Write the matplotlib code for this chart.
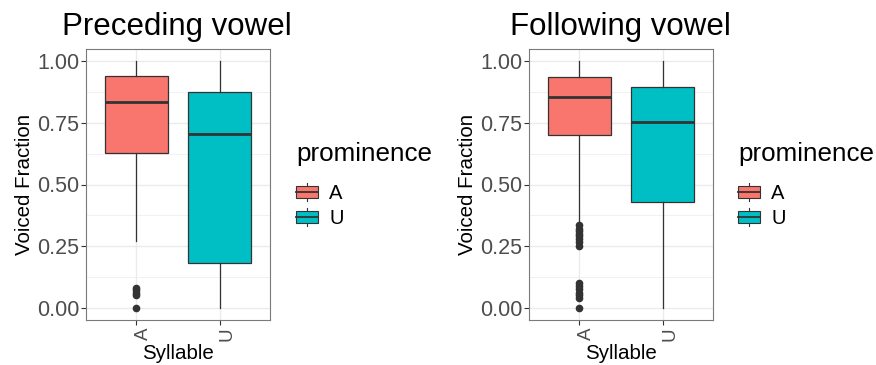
import matplotlib
matplotlib.use("Agg")
import matplotlib.pyplot as plt
from matplotlib.legend_handler import HandlerBase
from matplotlib.patches import Rectangle, Patch
from matplotlib.lines import Line2D
from matplotlib.transforms import blended_transform_factory, ScaledTranslation

plt.rcParams['font.family'] = ['Liberation Sans', 'DejaVu Sans']

W, H = 876, 365

syllables = ['A', 'U']
fill_colors = ['#F8766D', '#00BFC4']

# Preceding vowel: box summaries per syllable
pre_whislo = [0.27, 0.0]
pre_q1 = [0.626, 0.183]
pre_med = [0.833, 0.706]
pre_q3 = [0.941, 0.877]
pre_whishi = [1.0, 1.0]
pre_fliers = [[0.0, 0.05, 0.06, 0.07, 0.08], []]

# Following vowel: box summaries per syllable
fol_whislo = [0.35, 0.0]
fol_q1 = [0.700, 0.429]
fol_med = [0.854, 0.752]
fol_q3 = [0.937, 0.897]
fol_whishi = [1.0, 1.0]
fol_fliers = [[0.0, 0.04, 0.05, 0.06, 0.075, 0.09, 0.10,
               0.25, 0.265, 0.28, 0.29, 0.30, 0.31, 0.32, 0.335], []]

y_ticks = [0.0, 0.25, 0.5, 0.75, 1.0]
y_tick_labels = ['0.00', '0.25', '0.50', '0.75', '1.00']
y_minor = [0.125, 0.375, 0.625, 0.875]

DARK = '#333333'
GRID = '#EBEBEB'


def fx(px):
    return px / W


def fy(py):
    return 1 - py / H


class BoxKey(HandlerBase):
    """Legend key that looks like a small boxplot."""

    def create_artists(self, legend, orig_handle, xdescent, ydescent,
                       width, height, fontsize, trans):
        x0, y0 = -xdescent, -ydescent
        cx = x0 + width / 2
        whisk = Line2D([cx, cx], [y0, y0 + height], color=DARK, lw=0.8,
                       transform=trans)
        box = Rectangle((x0, y0 + 0.17 * height), width, 0.66 * height,
                        facecolor=orig_handle.get_facecolor(),
                        edgecolor=DARK, lw=0.8, transform=trans)
        med = Line2D([x0, x0 + width], [y0 + height / 2] * 2, color=DARK,
                     lw=1.3, transform=trans)
        return [whisk, box, med]


fig = plt.figure(figsize=(W / 100, H / 100), dpi=100)


def draw_panel(left, right, title, title_x, whislo, q1, med, q3, whishi,
               fliers, legend_x):
    ax = fig.add_axes([fx(left), fy(320), fx(right - left), fy(49) - fy(320)])
    stats = []
    for i in range(len(syllables)):
        stats.append({'whislo': whislo[i], 'q1': q1[i], 'med': med[i],
                      'q3': q3[i], 'whishi': whishi[i], 'fliers': fliers[i]})
    positions = list(range(1, len(syllables) + 1))
    bp = ax.bxp(stats, positions=positions, widths=0.75, patch_artist=True,
                showcaps=False,
                boxprops=dict(edgecolor=DARK, linewidth=0.9),
                medianprops=dict(color=DARK, linewidth=2.0),
                whiskerprops=dict(color=DARK, linewidth=0.9),
                flierprops=dict(marker='o', markerfacecolor=DARK,
                                markeredgecolor=DARK, markersize=4.5))
    for patch, c in zip(bp['boxes'], fill_colors):
        patch.set_facecolor(c)

    ax.set_xlim(0.4, 2.6)
    ax.set_ylim(-0.05, 1.05)
    ax.set_axisbelow(True)

    # grid
    for y in y_ticks:
        ax.axhline(y, color=GRID, lw=1.0, zorder=0)
    for y in y_minor:
        ax.axhline(y, color=GRID, lw=0.5, zorder=0)
    for x in positions:
        ax.axvline(x, color=GRID, lw=1.0, zorder=0)

    for s in ax.spines.values():
        s.set_color('#7a7a7a')
        s.set_linewidth(0.8)

    ax.set_yticks(y_ticks)
    ax.set_yticklabels(y_tick_labels)
    ax.set_xticks(positions)
    ax.set_xticklabels([])
    ax.tick_params(axis='both', length=3.6, width=0.8, color=DARK,
                   labelcolor='#4D4D4D', labelsize=15.5, pad=1.2)

    # rotated category labels
    tr = blended_transform_factory(ax.transData, fig.transFigure) + \
        ScaledTranslation(7.0 / 100, 0, fig.dpi_scale_trans)
    for x, lab in zip(positions, syllables):
        ax.text(x, fy(327), lab, rotation=90, ha='center', va='top',
                fontsize=13.5, color='#4D4D4D', transform=tr)

    ax.set_ylabel('Voiced Fraction', fontsize=14.8)
    ax.yaxis.set_label_coords(fx(left - 52), fy(184.5),
                              transform=fig.transFigure)
    ax.set_xlabel('Syllable', fontsize=14.8)
    ax.xaxis.set_label_coords(fx((left + right) / 2), fy(344),
                              transform=fig.transFigure)

    fig.text(fx(title_x), fy(35), title, fontsize=22.5, ha='left',
             va='baseline')

    handles = [Patch(facecolor=c) for c in fill_colors]
    leg = fig.legend(handles, syllables, title='prominence', loc='upper left',
                     bbox_to_anchor=(fx(legend_x), fy(142)), frameon=False,
                     fontsize=14.5, title_fontsize=18.7, alignment='left',
                     handler_map={Patch: BoxKey()}, handlelength=1.08,
                     handleheight=1.0, handletextpad=0.58, labelspacing=0.25,
                     borderpad=0, borderaxespad=0)
    leg._legend_box.sep = 12
    return ax


draw_panel(86, 270, 'Preceding vowel', 62, pre_whislo, pre_q1, pre_med,
           pre_q3, pre_whishi, pre_fliers, 296)
draw_panel(529, 713, 'Following vowel', 510, fol_whislo, fol_q1, fol_med,
           fol_q3, fol_whishi, fol_fliers, 738)

fig.savefig('out.png', dpi=100)
